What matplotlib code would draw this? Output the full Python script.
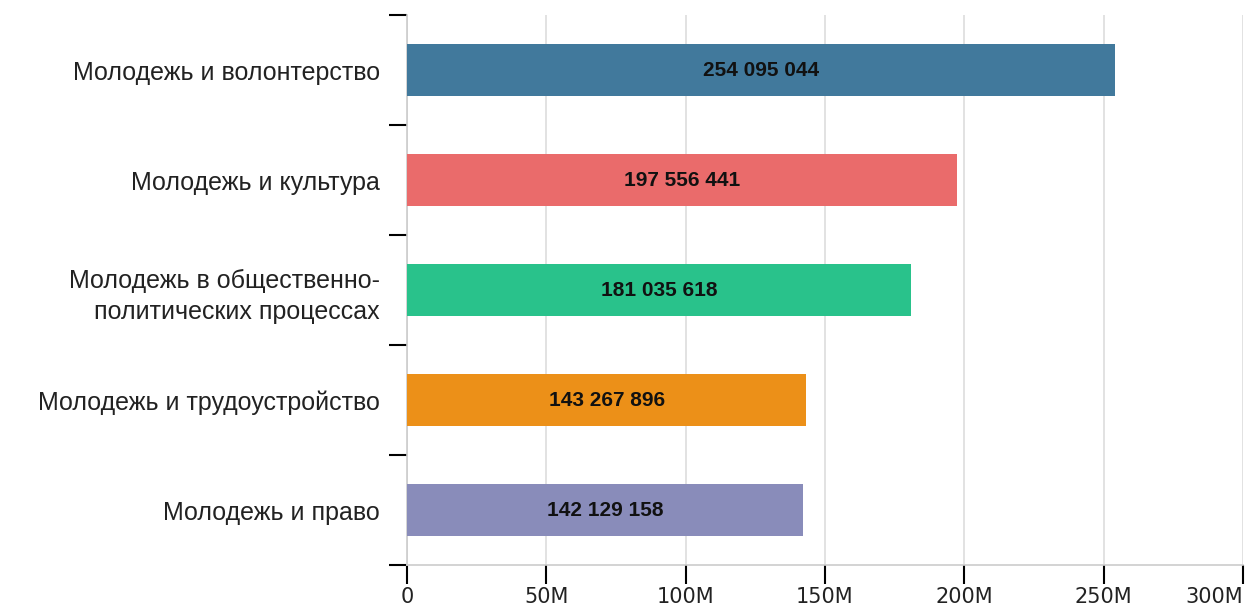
import matplotlib.pyplot as plt
from matplotlib.ticker import FuncFormatter

categories = [
    "Молодежь и волонтерство",
    "Молодежь и культура",
    "Молодежь в общественно-\nполитических процессах",
    "Молодежь и трудоустройство",
    "Молодежь и право",
]
values = [254095044, 197556441, 181035618, 143267896, 142129158]
colors = ["#41799c", "#ea6b6b", "#29c28b", "#ec9018", "#898cba"]
x_ticks = [0, 50e6, 100e6, 150e6, 200e6, 250e6, 300e6]

plt.rcParams["font.family"] = ["Liberation Sans", "DejaVu Sans"]

fig = plt.figure(figsize=(12.49, 6.05), dpi=100)
ax = fig.add_axes([0.3259, 0.0661, 0.6692, 0.9091])

y = list(range(len(categories)))
bars = ax.barh(y, values, height=0.47, color=colors, zorder=3)

for b, v in zip(bars, values):
    label = f"{v:,}".replace(",", " ")
    ax.text(v / 2, b.get_y() + b.get_height() / 2, label, ha="center", va="center",
            fontsize=15, fontweight="bold", color="#111111", zorder=4)

ax.set_ylim(4.5, -0.5)
ax.set_xlim(0, 300e6)

# category labels, ticks at band boundaries
ax.set_yticks(y)
ax.set_yticklabels(categories, fontsize=18, color="#222222", linespacing=1.4)
ax.tick_params(axis="y", which="major", length=0, pad=19.5)
ax.set_yticks([i - 0.5 for i in range(len(categories) + 1)], minor=True)
ax.tick_params(axis="y", which="minor", length=13, width=1.5, color="black")

ax.set_xticks(x_ticks)
ax.xaxis.set_major_formatter(FuncFormatter(lambda v, p: "0" if v == 0 else f"{int(v / 1e6)}M"))
ax.tick_params(axis="x", length=14, width=1.5, color="black", pad=2)
xlabels = ax.get_xticklabels()
for t in xlabels:
    t.set_fontfamily("DejaVu Sans")
    t.set_fontsize(15)
    t.set_color("#222222")
xlabels[-1].set_horizontalalignment("right")

ax.grid(axis="x", color="#dddddd", linewidth=1.2, zorder=0)
for s in ["top", "right"]:
    ax.spines[s].set_visible(False)
ax.spines["left"].set_color("#cccccc")
ax.spines["bottom"].set_color("#cccccc")
ax.spines["left"].set_linewidth(1.2)
ax.spines["bottom"].set_linewidth(1.2)

fig.savefig("out.png", dpi=100)
